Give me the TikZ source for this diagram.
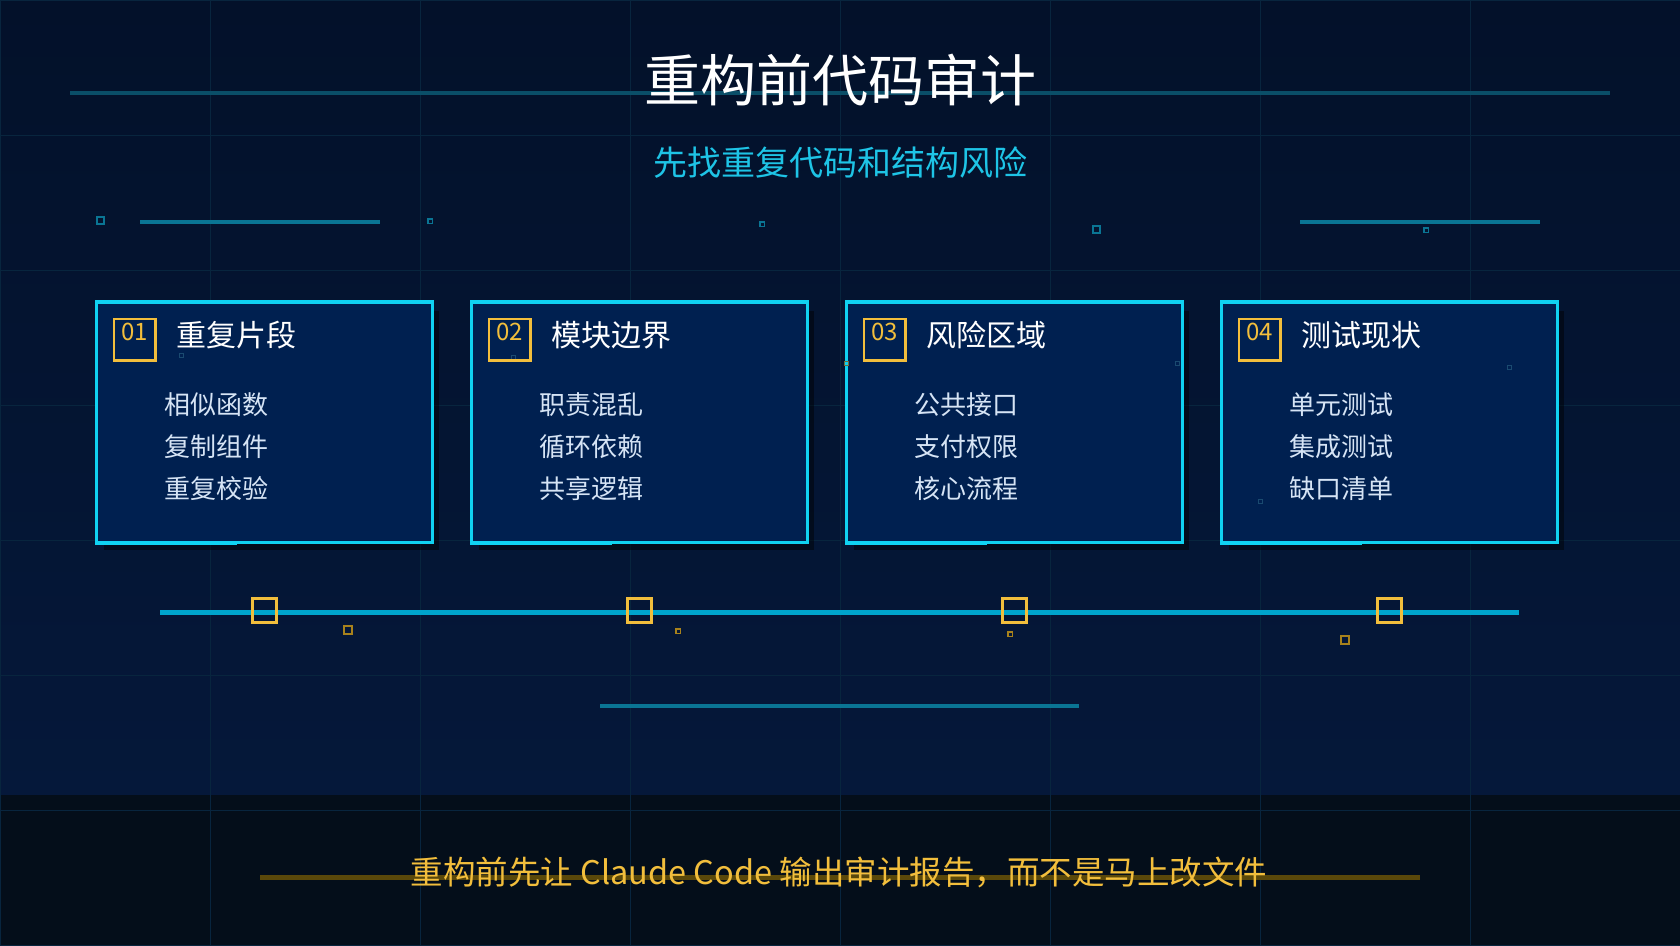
\documentclass[tikz,border=0pt]{standalone}
\usepackage{fontspec}
\newfontfamily\cjk{Noto Sans CJK SC}
\usetikzlibrary{shadows}

\definecolor{bgtop}{HTML}{03112A}
\definecolor{bgmid}{HTML}{05183A}
\definecolor{bandbg}{HTML}{040E1A}
\definecolor{gridcol}{HTML}{08253E}
\definecolor{cardfill}{HTML}{002050}
\definecolor{cardline}{HTML}{10D2F2}
\definecolor{timeline}{HTML}{00A4CC}
\definecolor{decoline}{HTML}{0A7594}
\definecolor{titleline}{HTML}{0A4E68}
\definecolor{gold}{HTML}{F2BE3C}
\definecolor{dimgold}{HTML}{A8821C}
\definecolor{goldline}{HTML}{5A480A}
\definecolor{subcyan}{HTML}{1EC4E6}
\definecolor{itemtext}{HTML}{D6E4F5}
\definecolor{speck}{HTML}{1A4A70}

\begin{document}
\begin{tikzpicture}[
    x=1pt, y=-1pt,
    font=\cjk,
    card/.style={
        draw=cardline, line width=3.2pt, fill=cardfill,
        minimum width=335.8pt, minimum height=239.8pt, inner sep=0pt,
        drop shadow={shadow xshift=7pt, shadow yshift=-8pt, opacity=0.45, fill=black}
    },
    cardbar/.style={draw=cardline, line width=4pt},
    numbox/.style={draw=gold, line width=2.5pt, minimum size=41.5pt, inner sep=0pt},
    numtext/.style={font=\cjk\fontsize{24}{26}\selectfont, text=gold, inner sep=0pt},
    heading/.style={font=\cjk\fontsize{30}{34}\selectfont, text=white, anchor=west, inner sep=0pt},
    item/.style={font=\cjk\fontsize{26}{30}\selectfont, text=itemtext, anchor=west, inner sep=0pt},
    marker/.style={draw=gold, line width=3pt, minimum size=24pt, inner sep=0pt},
    spark/.style={draw=dimgold, line width=2pt, minimum size=8pt, inner sep=0pt},
    sparklet/.style={draw=dimgold, line width=1.5pt, minimum size=4.5pt, inner sep=0pt},
    pixel/.style={draw=decoline, line width=2pt, minimum size=7pt, inner sep=0pt},
    pixlet/.style={draw=decoline, line width=1.5pt, minimum size=4.5pt, inner sep=0pt},
    speckle/.style={draw=speck, line width=1pt, minimum size=4pt, inner sep=0pt},
    decor/.style={line width=4pt}
]
\useasboundingbox (0,0) rectangle (1680,945);

% Background, footer band and grid
\fill[top color=bgtop, bottom color=bgmid] (0,0) rectangle (1680,795);
\fill[bandbg] (0,795) rectangle (1680,945);
\draw[gridcol, line width=1pt] (0,945) grid[xstep=210pt, ystep=135pt] (1680,0);

% Title block
\draw[decor, titleline] (70,93) -- (1610,93);
\node[font=\cjk\fontsize{56}{62}\selectfont, text=white] (title) at (840,80) {重构前代码审计};
\node[font=\cjk\fontsize{34}{40}\selectfont, text=subcyan] (subtitle) at (840,163) {先找重复代码和结构风险};

% Top ornaments
\draw[decor, decoline] (140,222) -- (380,222);
\draw[decor, decoline] (1300,222) -- (1540,222);
\node[pixel]  (px1) at (100,220)  {};
\node[pixlet] (px2) at (430,221)  {};
\node[pixlet] (px3) at (762,224)  {};
\node[pixel]  (px4) at (1096,229) {};
\node[pixlet] (px5) at (1426,230) {};

% Cards
\node[card] (c1) at (264.5,422.5)  {};
\node[card] (c2) at (639.5,422.5)  {};
\node[card] (c3) at (1014.5,422.5) {};
\node[card] (c4) at (1389.5,422.5) {};

\draw[cardbar] ([yshift=-0.8pt]c1.north west) -- ([yshift=-0.8pt]c1.north east);
\draw[cardbar] ([yshift=-0.8pt]c2.north west) -- ([yshift=-0.8pt]c2.north east);
\draw[cardbar] ([yshift=-0.8pt]c3.north west) -- ([yshift=-0.8pt]c3.north east);
\draw[cardbar] ([yshift=-0.8pt]c4.north west) -- ([yshift=-0.8pt]c4.north east);
\draw[cardbar] ([yshift=0.8pt]c1.south west) -- ([xshift=142pt,yshift=0.8pt]c1.south west);
\draw[cardbar] ([yshift=0.8pt]c2.south west) -- ([xshift=142pt,yshift=0.8pt]c2.south west);
\draw[cardbar] ([yshift=0.8pt]c3.south west) -- ([xshift=142pt,yshift=0.8pt]c3.south west);
\draw[cardbar] ([yshift=0.8pt]c4.south west) -- ([xshift=142pt,yshift=0.8pt]c4.south west);

% Faint specks
\node[speckle] (sp1) at (181,355)  {};
\node[speckle] (sp2) at (513,357)  {};
\node[speckle, draw=dimgold!60!speck] (sp3) at (846,363) {};
\node[speckle] (sp4) at (1177,363) {};
\node[speckle] (sp5) at (1509,367) {};
\node[speckle] (sp6) at (1260,501) {};

% Card 01
\node[numbox]  (n1) at (134.5,339.5) {};
\node[numtext] (t1) at (134.5,332)   {01};
\node[heading] (h1) at (176,335)     {重复片段};
\node[item] (i1a) at (164,405) {相似函数};
\node[item] (i1b) at (164,447) {复制组件};
\node[item] (i1c) at (164,489) {重复校验};

% Card 02
\node[numbox]  (n2) at (509.5,339.5) {};
\node[numtext] (t2) at (509.5,332)   {02};
\node[heading] (h2) at (551,335)     {模块边界};
\node[item] (i2a) at (539,405) {职责混乱};
\node[item] (i2b) at (539,447) {循环依赖};
\node[item] (i2c) at (539,489) {共享逻辑};

% Card 03
\node[numbox]  (n3) at (884.5,339.5) {};
\node[numtext] (t3) at (884.5,332)   {03};
\node[heading] (h3) at (926,335)     {风险区域};
\node[item] (i3a) at (914,405) {公共接口};
\node[item] (i3b) at (914,447) {支付权限};
\node[item] (i3c) at (914,489) {核心流程};

% Card 04
\node[numbox]  (n4) at (1259.5,339.5) {};
\node[numtext] (t4) at (1259.5,332)   {04};
\node[heading] (h4) at (1301,335)     {测试现状};
\node[item] (i4a) at (1289,405) {单元测试};
\node[item] (i4b) at (1289,447) {集成测试};
\node[item] (i4c) at (1289,489) {缺口清单};

% Timeline with markers
\coordinate (tlstart) at (160,612);
\coordinate (tlend)   at (1519,612);
\draw[timeline, line width=5pt] (tlstart) -- (tlend);
\node[marker] (m1) at (264.5,610)  {};
\node[marker] (m2) at (639.5,610)  {};
\node[marker] (m3) at (1014.5,610) {};
\node[marker] (m4) at (1389.5,610) {};
\node[spark]    (k1) at (348,630)  {};
\node[sparklet] (k2) at (678,631)  {};
\node[sparklet] (k3) at (1010,634) {};
\node[spark]    (k4) at (1345,640) {};

\draw[decor, decoline] (600,706) -- (1079,706);

% Footer
\draw[goldline, line width=5pt] (260,877) -- (1420,877);
\node[font=\cjk\fontsize{32.5}{38}\selectfont, text=gold] (footer) at (839,872)
    {重构前先让 Claude Code 输出审计报告，而不是马上改文件};

\end{tikzpicture}
\end{document}
